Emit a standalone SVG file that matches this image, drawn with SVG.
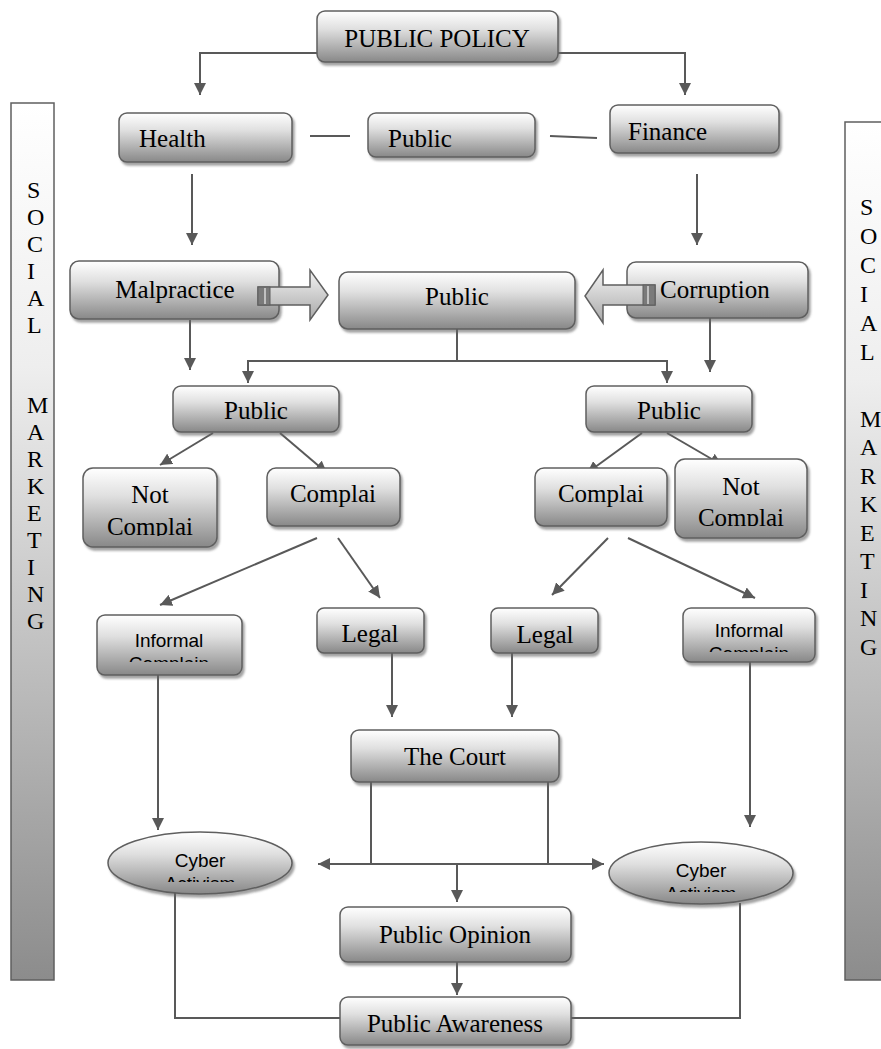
<svg xmlns="http://www.w3.org/2000/svg" width="881" height="1049" viewBox="0 0 881 1049">
<defs>
<linearGradient id="ng" x1="0" y1="0" x2="0" y2="1">
<stop offset="0" stop-color="#ffffff"/>
<stop offset="0.35" stop-color="#e0e0e0"/>
<stop offset="1" stop-color="#888888"/>
</linearGradient>
<linearGradient id="sg" x1="0" y1="0" x2="0" y2="1">
<stop offset="0" stop-color="#ffffff"/>
<stop offset="0.3" stop-color="#eeeeee"/>
<stop offset="1" stop-color="#8c8c8c"/>
</linearGradient>
<linearGradient id="ag" x1="0" y1="0" x2="0" y2="1">
<stop offset="0" stop-color="#f4f4f4"/>
<stop offset="1" stop-color="#a8a8a8"/>
</linearGradient>
<filter id="sh" x="-10%" y="-10%" width="130%" height="140%">
<feDropShadow dx="2" dy="3" stdDeviation="0.8" flood-color="#666" flood-opacity="0.6"/>
</filter>
<marker id="ah" viewBox="0 0 10 10" refX="10" refY="5" markerWidth="12" markerHeight="12" markerUnits="userSpaceOnUse" orient="auto">
<path d="M0,0 L10,5 L0,10 z" fill="#595959"/>
</marker>
<clipPath id="c1"><rect x="80" y="465" width="140" height="71"/></clipPath>
<clipPath id="c2"><rect x="670" y="455" width="140" height="71"/></clipPath>
<clipPath id="c3"><rect x="95" y="610" width="150" height="52"/></clipPath>
<clipPath id="c4"><rect x="680" y="605" width="140" height="47"/></clipPath>
<clipPath id="c5"><rect x="105" y="830" width="190" height="52"/></clipPath>
<clipPath id="c6"><rect x="605" y="838" width="190" height="54"/></clipPath>
</defs>
<style>
.n{fill:url(#ng);stroke:#5f5f5f;stroke-width:1.5;filter:url(#sh)}
.t{font-family:"Liberation Serif","Times New Roman",serif;font-size:25px;fill:#000}
.a{font-family:"Liberation Sans",Arial,sans-serif;font-size:19px;fill:#000}
.s{font-family:"Liberation Serif","Times New Roman",serif;font-size:24px;fill:#000}
.c{fill:none;stroke:#595959;stroke-width:2}
.ca{fill:none;stroke:#595959;stroke-width:2;marker-end:url(#ah)}
.m{text-anchor:middle}
</style>

<g id="sidebar-left">
<rect x="11" y="103" width="43" height="877" fill="url(#sg)" stroke="#5f5f5f" stroke-width="1.5"/>
<text class="s" x="27" y="198">S</text>
<text class="s" x="27" y="225">O</text>
<text class="s" x="27" y="252">C</text>
<text class="s" x="27" y="279">I</text>
<text class="s" x="27" y="306">A</text>
<text class="s" x="27" y="333">L</text>
<text class="s" x="27" y="413">M</text>
<text class="s" x="27" y="440">A</text>
<text class="s" x="27" y="467">R</text>
<text class="s" x="27" y="494">K</text>
<text class="s" x="27" y="521">E</text>
<text class="s" x="27" y="548">T</text>
<text class="s" x="27" y="575">I</text>
<text class="s" x="27" y="602">N</text>
<text class="s" x="27" y="629">G</text>
</g>

<g id="sidebar-right">
<rect x="845" y="122" width="45" height="858" fill="url(#sg)" stroke="#5f5f5f" stroke-width="1.5"/>
<text class="s" x="860" y="215">S</text>
<text class="s" x="860" y="244">O</text>
<text class="s" x="860" y="273">C</text>
<text class="s" x="860" y="302">I</text>
<text class="s" x="860" y="331">A</text>
<text class="s" x="860" y="360">L</text>
<text class="s" x="860" y="427">M</text>
<text class="s" x="860" y="455">A</text>
<text class="s" x="860" y="484">R</text>
<text class="s" x="860" y="512">K</text>
<text class="s" x="860" y="541">E</text>
<text class="s" x="860" y="569">T</text>
<text class="s" x="860" y="598">I</text>
<text class="s" x="860" y="626">N</text>
<text class="s" x="860" y="655">G</text>
</g>

<g id="connectors">
<path class="ca" d="M317,53 H200 V95"/>
<path class="ca" d="M558,53 H685 V95"/>
<path class="c" d="M310,136 H350"/>
<path class="c" d="M550,136 L597,138"/>
<path class="ca" d="M192,174 V245"/>
<path class="ca" d="M697,174 V245"/>
<path class="ca" d="M190,320 V370"/>
<path class="ca" d="M710,318 V372"/>
<path class="c" d="M457,329 V361"/>
<path class="ca" d="M457,361 H248 V383"/>
<path class="ca" d="M457,361 H667 V383"/>
<path class="ca" d="M213,433 L160,465"/>
<path class="ca" d="M280,433 L327,473"/>
<path class="ca" d="M642,433 L587,473"/>
<path class="ca" d="M667,433 L722,465"/>
<path class="ca" d="M317,538 L160,605"/>
<path class="ca" d="M338,538 L380,598"/>
<path class="ca" d="M608,538 L552,595"/>
<path class="ca" d="M628,538 L755,598"/>
<path class="ca" d="M392,653 V717"/>
<path class="ca" d="M512,653 V717"/>
<path class="ca" d="M158,675 V830"/>
<path class="ca" d="M750,662 V827"/>
<path class="c" d="M371,782 V864 H548 V782"/>
<path class="ca" d="M371,864 H318"/>
<path class="ca" d="M548,864 H604"/>
<path class="ca" d="M457,864 V902"/>
<path class="ca" d="M457,962 V995"/>
<path class="c" d="M175,893 V1018 H340"/>
<path class="c" d="M740,903 V1018 H571"/>
</g>

<g id="public-policy">
<rect class="n" x="317" y="11" width="241" height="51" rx="8"/>
<text class="t m" x="437" y="47">PUBLIC POLICY</text>
</g>
<g id="health">
<rect class="n" x="119" y="113" width="173" height="49" rx="8"/>
<text class="t" x="139" y="147">Health</text>
</g>
<g id="public-top">
<rect class="n" x="368" y="113" width="167" height="44" rx="8"/>
<text class="t" x="388" y="147">Public</text>
</g>
<g id="finance">
<rect class="n" x="610" y="105" width="169" height="48" rx="8"/>
<text class="t" x="628" y="140">Finance</text>
</g>
<g id="malpractice">
<rect class="n" x="70" y="261" width="209" height="58" rx="9"/>
<text class="t m" x="175" y="298">Malpractice</text>
</g>
<g id="corruption">
<rect class="n" x="627" y="262" width="181" height="56" rx="9"/>
<text class="t" x="660" y="298">Corruption</text>
</g>
<g id="public-center">
<rect class="n" x="339" y="272" width="236" height="57" rx="9"/>
<text class="t m" x="457" y="305">Public</text>
</g>
<g id="block-arrow-left">
<path d="M258,287 H310 V270 L328,295 L310,320 V305 H258 Z" fill="url(#ag)" stroke="#5f5f5f" stroke-width="1.5"/>
<rect x="258" y="287" width="12" height="18" fill="#7a7a7a" stroke="#5f5f5f" stroke-width="1"/>
<line x1="265" y1="288" x2="265" y2="304" stroke="#d8d8d8" stroke-width="1.5"/>
</g>
<g id="block-arrow-right">
<path d="M655,285 H603 V270 L585,296 L603,323 V305 H655 Z" fill="url(#ag)" stroke="#5f5f5f" stroke-width="1.5"/>
<rect x="643" y="285" width="12" height="20" fill="#7a7a7a" stroke="#5f5f5f" stroke-width="1"/>
<line x1="648" y1="286" x2="648" y2="304" stroke="#d8d8d8" stroke-width="1.5"/>
</g>
<g id="public-left">
<rect class="n" x="173" y="386" width="166" height="46" rx="8"/>
<text class="t m" x="256" y="419">Public</text>
</g>
<g id="public-right">
<rect class="n" x="586" y="386" width="166" height="46" rx="8"/>
<text class="t m" x="669" y="419">Public</text>
</g>
<g id="not-complain-left">
<rect class="n" x="83" y="468" width="134" height="79" rx="10"/>
<g clip-path="url(#c1)">
<text class="t m" x="150" y="503">Not</text>
<text class="t m" x="150" y="535">Complai</text>
</g>
</g>
<g id="complain-left">
<rect class="n" x="267" y="468" width="133" height="58" rx="9"/>
<text class="t m" x="333" y="502">Complai</text>
</g>
<g id="complain-right">
<rect class="n" x="535" y="468" width="132" height="58" rx="9"/>
<text class="t m" x="601" y="502">Complai</text>
</g>
<g id="not-complain-right">
<rect class="n" x="675" y="459" width="132" height="79" rx="10"/>
<g clip-path="url(#c2)">
<text class="t m" x="741" y="495">Not</text>
<text class="t m" x="741" y="526">Complai</text>
</g>
</g>
<g id="informal-left">
<rect class="n" x="97" y="615" width="145" height="60" rx="8"/>
<g clip-path="url(#c3)">
<text class="a m" x="169" y="647">Informal</text>
<text class="a m" x="169" y="670">Complain</text>
</g>
</g>
<g id="legal-left">
<rect class="n" x="317" y="608" width="107" height="45" rx="7"/>
<text class="t m" x="370" y="642">Legal</text>
</g>
<g id="legal-right">
<rect class="n" x="491" y="608" width="107" height="45" rx="7"/>
<text class="t m" x="545" y="643">Legal</text>
</g>
<g id="informal-right">
<rect class="n" x="683" y="608" width="132" height="54" rx="8"/>
<g clip-path="url(#c4)">
<text class="a m" x="749" y="637">Informal</text>
<text class="a m" x="749" y="660">Complain</text>
</g>
</g>
<g id="the-court">
<rect class="n" x="351" y="730" width="208" height="52" rx="8"/>
<text class="t m" x="455" y="765">The Court</text>
</g>
<g id="cyber-left">
<ellipse class="n" cx="200" cy="863" rx="92" ry="31"/>
<g clip-path="url(#c5)">
<text class="a m" x="200" y="867">Cyber</text>
<text class="a m" x="200" y="890">Activism</text>
</g>
</g>
<g id="cyber-right">
<ellipse class="n" cx="701" cy="873" rx="92" ry="31"/>
<g clip-path="url(#c6)">
<text class="a m" x="701" y="877">Cyber</text>
<text class="a m" x="701" y="900">Activism</text>
</g>
</g>
<g id="public-opinion">
<rect class="n" x="340" y="907" width="231" height="55" rx="8"/>
<text class="t m" x="455" y="943">Public Opinion</text>
</g>
<g id="public-awareness">
<rect class="n" x="340" y="997" width="231" height="48" rx="8"/>
<text class="t m" x="455" y="1032">Public Awareness</text>
</g>
</svg>
